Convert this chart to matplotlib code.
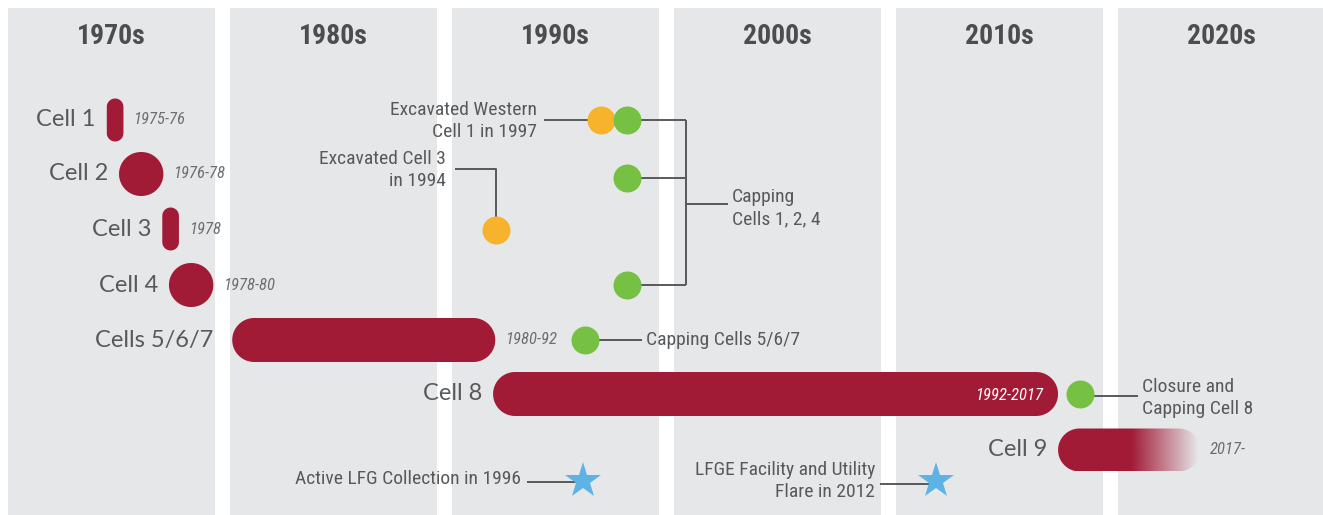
import matplotlib
matplotlib.use("Agg")
import matplotlib.pyplot as plt
import numpy as np
from matplotlib.patches import Rectangle, Polygon

# --- Data ---
decades = [1970, 1980, 1990, 2000, 2010, 2020]
decade_labels = ["1970s", "1980s", "1990s", "2000s", "2010s", "2020s"]

cell_names = ["Cell 1", "Cell 2", "Cell 3", "Cell 4", "Cells 5/6/7", "Cell 8", "Cell 9"]
cell_periods = ["1975-76", "1976-78", "1978", "1978-80", "1980-92", "1992-2017", "2017-"]
cell_start = [1974.45, 1975.0, 1976.95, 1977.25, 1980.1, 1991.85, 2017.3]
cell_end = [1975.2, 1977.0, 1977.7, 1979.25, 1991.95, 2017.3, 2023.7]

excavated_years = [1996.7, 1992.0]
capping_years = [1997.9, 1997.9, 1997.9, 1996.0, 2018.3]
lfg_years = [1995.9, 2011.8]

# --- Layout (pixels) ---
PX = 22.2                      # pixels per year
X0 = 1970 - 8 / PX             # year at left edge
W, H = 1323, 515
cell_rows = [120, 174, 229, 285, 340, 394, 450]
cell_heights = [43, 44, 43, 44, 44, 44, 43]
excavated_rows = [120, 230]
capping_rows = [120, 178, 285, 340, 394]
lfg_rows = [481, 481]

BG = "#E6E7E9"
RED = "#A21B36"
ORANGE = "#F7B32B"
GREEN = "#76C043"
BLUE = "#5DB3E4"
TXT = "#58595B"
NARROW = ["Roboto Condensed", "DejaVu Sans Condensed", "Liberation Sans Narrow", "Roboto"]


def xp(px):
    return X0 + px / PX


def pill(ax, x0, x1, yc, h, **kw):
    # stadium shape with true semicircle ends (x in years, y in pixels)
    r = min((x1 - x0) * PX, h) / 2
    t = np.linspace(-np.pi / 2, np.pi / 2, 40)
    if (x1 - x0) * PX >= h:
        cxl, cxr = x0 + r / PX, x1 - r / PX
        right = np.c_[cxr + r * np.cos(t) / PX, yc + r * np.sin(t)]
        left = np.c_[cxl - r * np.cos(t[::-1]) / PX, yc + r * np.sin(t[::-1])]
    else:
        cx = (x0 + x1) / 2
        cyt, cyb = yc - h / 2 + r, yc + h / 2 - r
        tt = np.linspace(0, np.pi, 40)
        right = np.c_[cx + r * np.cos(tt) / PX, cyt - r * np.sin(tt)]
        left = np.c_[cx - r * np.cos(tt) / PX, cyb + r * np.sin(tt)]
    p = Polygon(np.vstack([right, left]), closed=True, **kw)
    ax.add_patch(p)
    return p


fig = plt.figure(figsize=(W / 100, H / 100), dpi=100)
ax = fig.add_axes([0, 0, 1, 1])
ax.set_xlim(X0, X0 + W / PX)
ax.set_ylim(H, 0)
ax.axis("off")

# --- Decade columns ---
for d, lab in zip(decades, decade_labels):
    ax.add_patch(Rectangle((d, 8), 9.33, H - 8, color=BG, lw=0, zorder=0))
    ax.text(d + 9.33 / 2, 36, lab, ha="center", va="center", fontsize=20,
            fontweight="bold", family=NARROW, color="#4D4D4F")

# --- Cells ---
for i, name in enumerate(cell_names):
    x0, x1, y, h = cell_start[i], cell_end[i], cell_rows[i], cell_heights[i]
    if name == "Cell 9":
        clip = pill(ax, x0, x1, y, h, facecolor="none", edgecolor="none")
        xs = np.linspace(x0, x1, 300)
        alpha = np.clip((x1 - 0.1 - xs) / (x1 - 0.1 - 2020.6), 0, 1)
        img = np.zeros((1, 300, 4))
        img[..., :3] = matplotlib.colors.to_rgb(RED)
        img[0, :, 3] = alpha
        im = ax.imshow(img, extent=(x0, x1, y + h / 2, y - h / 2), aspect="auto",
                       interpolation="bilinear", zorder=2)
        im.set_clip_path(clip)
    else:
        pill(ax, x0, x1, y, h, facecolor=RED, edgecolor="none", zorder=2)
    off = 19 if name == "Cells 5/6/7" else 11
    ax.annotate(name, (x0, y), xytext=(-off, 0), textcoords="offset pixels",
                ha="right", va="center", fontsize=17, family="Lato", color=TXT)
    if name == "Cell 8":
        ax.annotate(cell_periods[i], (x1, y), xytext=(-15, -2), textcoords="offset pixels",
                    ha="right", va="center", fontsize=12, style="italic",
                    family=NARROW, color="white", zorder=3)
    else:
        ax.annotate(cell_periods[i], (x1, y), xytext=(10, 0), textcoords="offset pixels",
                    ha="left", va="center", fontsize=12, style="italic",
                    family=NARROW, color="#6D6E71")

# --- Connectors ---
lk = dict(color=TXT, lw=1.4, zorder=1, solid_capstyle="butt")
# Excavated Western Cell 1
ax.plot([xp(544), excavated_years[0]], [120, 120], **lk)
# Excavated Cell 3
ax.plot([xp(455), excavated_years[1], excavated_years[1]], [169, 169, excavated_rows[1]], **lk)
# Capping Cells 1, 2, 4 bracket
for yy in capping_rows[:3]:
    ax.plot([capping_years[0], xp(686)], [yy, yy], **lk)
ax.plot([xp(686), xp(686)], [capping_rows[0], capping_rows[2]], **lk)
ax.plot([xp(686), xp(728)], [204, 204], **lk)
# Capping Cells 5/6/7
ax.plot([capping_years[3], xp(642)], [340, 340], **lk)
# Closure Cell 8
ax.plot([capping_years[4], xp(1138)], [396, 396], **lk)
# LFG stars
ax.plot([xp(527), lfg_years[0]], [482, 482], **lk)
ax.plot([xp(880), lfg_years[1]], [484, 484], **lk)

# --- Markers ---
ax.scatter(excavated_years, excavated_rows, s=406, color=ORANGE, lw=0, zorder=3)
ax.scatter(capping_years, capping_rows, s=406, color=GREEN, lw=0, zorder=4)
ax.plot(lfg_years, lfg_rows, ls="none", marker="*", ms=27, color=BLUE, mew=0, zorder=3)

# --- Annotation texts ---
tk = dict(fontsize=14, family=NARROW, color=TXT, linespacing=1.32)
ax.text(xp(537), 121, "Excavated Western\nCell 1 in 1997", ha="right", va="center", **tk)
ax.text(xp(446), 170, "Excavated Cell 3\nin 1994", ha="right", va="center", **tk)
ax.text(xp(732), 208, "Capping\nCells 1, 2, 4", ha="left", va="center", **tk)
ax.text(xp(646), 340, "Capping Cells 5/6/7", ha="left", va="center", **tk)
ax.text(xp(1142), 398, "Closure and\nCapping Cell 8", ha="left", va="center", **tk)
ax.text(xp(521), 479, "Active LFG Collection in 1996", ha="right", va="center", **tk)
ax.text(xp(875), 481, "LFGE Facility and Utility\nFlare in 2012", ha="right", va="center",
        multialignment="right", **tk)

fig.savefig("out.png", dpi=100, facecolor="white")
